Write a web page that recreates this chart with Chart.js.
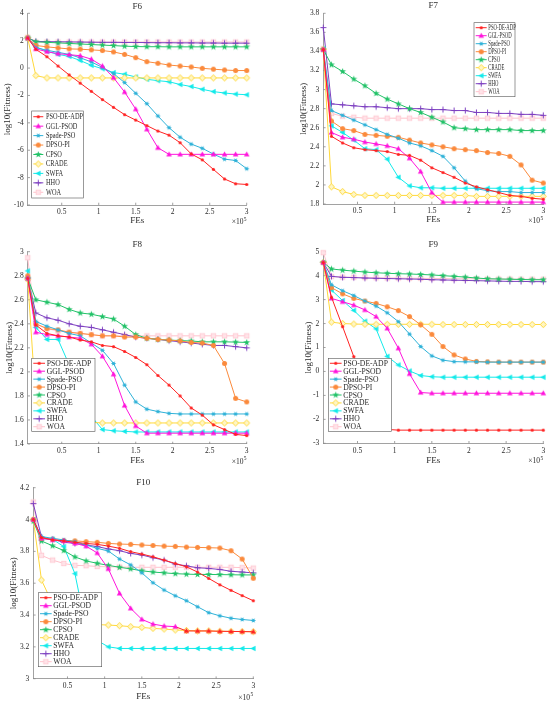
<!DOCTYPE html>
<html><head><meta charset="utf-8">
<script src="https://cdn.jsdelivr.net/npm/chart.js@4.4.1/dist/chart.umd.min.js"></script>
<style>
html,body{margin:0;padding:0;background:#fff;}
#wrap{position:relative;width:550px;height:706px;overflow:hidden;background:#fff;}
#wrap canvas{position:absolute;left:0;top:0;}
</style></head><body>
<div id="wrap">
<canvas id="c6" width="550" height="706"></canvas>
<canvas id="c7" width="550" height="706"></canvas>
<canvas id="c8" width="550" height="706"></canvas>
<canvas id="c9" width="550" height="706"></canvas>
<canvas id="c10" width="550" height="706"></canvas>
</div>
<script>
// ---------- data ----------
const SERIES = ['PSO-DE-ADP','GGL-PSOD','Spade-PSO','DPSO-PI','CPSO','CRADE','SWFA','HHO','WOA'];
const FES = [0.04,0.15,0.3,0.45,0.6,0.75,0.9,1.05,1.2,1.35,1.5,1.65,1.8,1.95,2.1,2.25,2.4,2.55,2.7,2.85,3.0];
const X_TICKS = [0.5,1,1.5,2,2.5,3];

const F6_Y_TICKS = [-10,-8,-6,-4,-2,0,2,4];
const F6_PSO_DE_ADP = [2.2,1.37,0.83,0.15,-0.5,-1.1,-1.7,-2.3,-2.87,-3.4,-3.8,-4.2,-4.6,-4.9,-5.45,-6.27,-6.7,-7.4,-8.1,-8.45,-8.5];
const F6_GGL_PSOD = [2.2,1.4,1.2,1.05,0.98,0.9,0.65,0.15,-0.7,-1.75,-3.0,-4.47,-5.82,-6.3,-6.3,-6.3,-6.3,-6.3,-6.3,-6.3,-6.3];
const F6_SPADE_PSO = [2.2,1.5,1.3,1.15,1.0,0.75,0.45,0.05,-0.4,-1.06,-1.84,-2.6,-3.5,-4.35,-5.05,-5.55,-5.86,-6.28,-6.65,-6.75,-7.35];
const F6_DPSO_PI = [2.2,1.65,1.55,1.47,1.4,1.38,1.33,1.28,1.18,1.0,0.76,0.47,0.35,0.22,0.15,0.08,-0.02,-0.08,-0.14,-0.18,-0.18];
const F6_CPSO = [2.2,1.92,1.88,1.84,1.8,1.76,1.72,1.68,1.64,1.6,1.57,1.56,1.56,1.55,1.55,1.55,1.55,1.55,1.55,1.55,1.55];
const F6_CRADE = [2.2,-0.55,-0.72,-0.72,-0.72,-0.72,-0.72,-0.72,-0.72,-0.72,-0.72,-0.72,-0.72,-0.72,-0.72,-0.72,-0.72,-0.72,-0.72,-0.72,-0.72];
const F6_SWFA = [2.2,1.55,1.22,1.0,0.85,0.55,0.2,-0.05,-0.33,-0.45,-0.65,-0.82,-0.92,-1.0,-1.2,-1.35,-1.55,-1.72,-1.82,-1.9,-1.95];
const F6_HHO = [2.2,1.95,1.93,1.92,1.91,1.9,1.89,1.88,1.88,1.87,1.87,1.86,1.85,1.85,1.84,1.84,1.83,1.83,1.82,1.82,1.82];
const F6_WOA = [2.25,1.9,1.9,1.9,1.9,1.9,1.9,1.9,1.9,1.9,1.9,1.9,1.9,1.9,1.9,1.9,1.9,1.9,1.9,1.9,1.9];

const F7_Y_TICKS = [1.8,2,2.2,2.4,2.6,2.8,3,3.2,3.4,3.6,3.8];
const F7_PSO_DE_ADP = [3.42,2.51,2.44,2.39,2.37,2.36,2.35,2.32,2.31,2.26,2.18,2.13,2.08,2.02,1.98,1.95,1.92,1.89,1.88,1.86,1.85];
const F7_GGL_PSOD = [3.42,2.55,2.5,2.48,2.45,2.43,2.41,2.38,2.28,2.14,1.92,1.82,1.82,1.82,1.82,1.82,1.82,1.82,1.82,1.82,1.82];
const F7_SPADE_PSO = [3.42,2.78,2.73,2.68,2.63,2.58,2.53,2.49,2.44,2.41,2.36,2.3,2.18,2.04,1.96,1.94,1.93,1.93,1.92,1.92,1.92];
const F7_DPSO_PI = [3.42,2.67,2.59,2.57,2.53,2.52,2.51,2.5,2.47,2.44,2.42,2.4,2.38,2.37,2.36,2.34,2.33,2.3,2.21,2.05,2.02];
const F7_CPSO = [3.42,3.26,3.19,3.11,3.04,2.96,2.9,2.85,2.8,2.76,2.71,2.66,2.6,2.59,2.58,2.58,2.58,2.58,2.57,2.57,2.57];
const F7_CRADE = [3.42,1.98,1.93,1.9,1.89,1.89,1.89,1.89,1.89,1.89,1.89,1.89,1.89,1.89,1.88,1.88,1.88,1.88,1.88,1.88,1.88];
const F7_SWFA = [3.43,2.62,2.55,2.47,2.38,2.37,2.27,2.08,1.99,1.97,1.97,1.965,1.965,1.965,1.965,1.965,1.965,1.965,1.965,1.965,1.965];
const F7_HHO = [3.65,2.85,2.84,2.83,2.82,2.82,2.81,2.8,2.8,2.8,2.79,2.79,2.78,2.78,2.76,2.76,2.75,2.75,2.74,2.74,2.73];
const F7_WOA = [3.43,2.75,2.72,2.71,2.7,2.7,2.7,2.7,2.7,2.7,2.7,2.7,2.7,2.7,2.7,2.7,2.7,2.7,2.7,2.7,2.7];

const F8_Y_TICKS = [1.4,1.6,1.8,2,2.2,2.4,2.6,2.8,3];
const F8_PSO_DE_ADP = [2.78,2.39,2.32,2.3,2.29,2.265,2.25,2.22,2.21,2.17,2.12,2.06,1.97,1.89,1.8,1.7,1.64,1.56,1.52,1.48,1.47];
const F8_GGL_PSOD = [2.78,2.33,2.31,2.3,2.29,2.28,2.23,2.13,1.98,1.72,1.55,1.49,1.49,1.49,1.49,1.49,1.49,1.49,1.49,1.49,1.49];
const F8_SPADE_PSO = [2.78,2.42,2.38,2.35,2.32,2.3,2.24,2.18,2.07,1.89,1.75,1.69,1.67,1.655,1.65,1.65,1.65,1.65,1.65,1.65,1.65];
const F8_DPSO_PI = [2.8,2.4,2.36,2.35,2.33,2.32,2.31,2.3,2.3,2.29,2.29,2.28,2.27,2.265,2.257,2.245,2.24,2.22,2.07,1.78,1.75];
const F8_CPSO = [2.78,2.6,2.58,2.56,2.52,2.49,2.48,2.46,2.44,2.38,2.31,2.28,2.27,2.265,2.26,2.257,2.25,2.25,2.25,2.248,2.245];
const F8_CRADE = [2.77,1.75,1.62,1.6,1.59,1.58,1.58,1.575,1.575,1.575,1.575,1.575,1.575,1.575,1.575,1.575,1.575,1.575,1.575,1.575,1.575];
const F8_SWFA = [2.84,2.37,2.27,2.27,2.06,1.85,1.63,1.52,1.51,1.505,1.5,1.5,1.5,1.5,1.5,1.5,1.5,1.5,1.5,1.5,1.5];
const F8_HHO = [2.78,2.49,2.45,2.43,2.4,2.38,2.37,2.35,2.33,2.31,2.29,2.28,2.27,2.26,2.25,2.24,2.23,2.22,2.22,2.21,2.2];
const F8_WOA = [2.95,2.4,2.36,2.34,2.33,2.32,2.31,2.3,2.3,2.3,2.3,2.3,2.3,2.3,2.3,2.3,2.3,2.3,2.3,2.3,2.3];

const F9_Y_TICKS = [-3,-2,-1,0,1,2,3,4,5];
const F9_PSO_DE_ADP = [4.55,3.1,1.87,0.62,-0.7,-1.9,-2.42,-2.45,-2.45,-2.45,-2.45,-2.45,-2.45,-2.45,-2.45,-2.45,-2.45,-2.45,-2.45,-2.45,-2.45];
const F9_GGL_PSOD = [4.55,3.05,2.91,2.77,2.57,2.29,1.8,0.97,-0.1,-0.88,-0.91,-0.91,-0.91,-0.91,-0.91,-0.91,-0.91,-0.91,-0.91,-0.91,-0.91];
const F9_SPADE_PSO = [4.55,3.62,3.37,3.17,2.94,2.73,2.45,2.08,1.56,1.04,0.65,0.47,0.41,0.4,0.4,0.39,0.39,0.39,0.39,0.39,0.39];
const F9_DPSO_PI = [4.55,3.5,3.24,3.05,2.94,2.84,2.7,2.54,2.29,1.95,1.55,1.04,0.69,0.52,0.42,0.4,0.39,0.39,0.39,0.39,0.39];
const F9_CPSO = [4.55,4.28,4.23,4.19,4.15,4.12,4.1,4.08,4.07,4.05,4.03,4.0,3.97,3.94,3.9,3.87,3.86,3.85,3.84,3.83,3.83];
const F9_CRADE = [4.55,2.06,2.0,1.98,1.97,1.97,1.97,1.97,1.97,1.97,1.97,1.96,1.96,1.96,1.96,1.96,1.96,1.96,1.96,1.96,1.96];
const F9_SWFA = [4.55,3.4,2.96,2.55,2.1,1.78,0.63,0.27,0.02,-0.17,-0.22,-0.24,-0.24,-0.24,-0.24,-0.24,-0.24,-0.24,-0.24,-0.24,-0.24];
const F9_HHO = [4.55,3.97,3.93,3.92,3.9,3.89,3.88,3.87,3.86,3.85,3.83,3.82,3.81,3.8,3.79,3.78,3.77,3.76,3.76,3.75,3.75];
const F9_WOA = [4.96,3.96,3.94,3.93,3.92,3.91,3.9,3.9,3.89,3.89,3.88,3.88,3.87,3.87,3.87,3.86,3.86,3.86,3.85,3.85,3.85];

const F10_Y_TICKS = [3,3.2,3.4,3.6,3.8,4,4.2];
const F10_PSO_DE_ADP = [4.0,3.887,3.872,3.866,3.857,3.85,3.844,3.833,3.819,3.798,3.783,3.766,3.745,3.724,3.703,3.67,3.63,3.59,3.555,3.522,3.49];
const F10_GGL_PSOD = [4.0,3.882,3.872,3.866,3.85,3.833,3.79,3.69,3.536,3.442,3.373,3.343,3.331,3.327,3.3,3.3,3.3,3.298,3.297,3.296,3.295];
const F10_SPADE_PSO = [4.0,3.893,3.882,3.872,3.861,3.84,3.819,3.802,3.752,3.715,3.665,3.603,3.557,3.521,3.49,3.452,3.415,3.395,3.38,3.372,3.366];
const F10_DPSO_PI = [4.0,3.882,3.876,3.868,3.866,3.861,3.857,3.85,3.846,3.844,3.84,3.837,3.833,3.831,3.827,3.825,3.823,3.821,3.804,3.752,3.631];
const F10_CPSO = [3.99,3.865,3.835,3.805,3.765,3.74,3.725,3.712,3.7,3.69,3.678,3.67,3.665,3.66,3.657,3.655,3.655,3.654,3.653,3.652,3.652];
const F10_CRADE = [4.0,3.62,3.47,3.4,3.37,3.35,3.34,3.337,3.333,3.327,3.322,3.316,3.312,3.306,3.303,3.3,3.3,3.298,3.297,3.296,3.295];
const F10_SWFA = [4.0,3.88,3.876,3.83,3.66,3.32,3.24,3.2,3.19,3.19,3.19,3.19,3.19,3.19,3.19,3.19,3.19,3.19,3.19,3.19,3.19];
const F10_HHO = [4.1,3.89,3.875,3.857,3.85,3.84,3.83,3.815,3.804,3.787,3.777,3.76,3.745,3.72,3.709,3.697,3.693,3.686,3.675,3.67,3.665];
const F10_WOA = [4.11,3.775,3.745,3.724,3.712,3.71,3.705,3.703,3.702,3.7,3.7,3.7,3.7,3.7,3.7,3.7,3.7,3.7,3.7,3.698,3.695];

// ---------- styles ----------
const FONT = '"Liberation Serif","Times New Roman",serif';
const COLORS = ['#ff2222','#ff14dc','#2fb2d8','#fb8a3c','#22c268','#ffd83a','#12eaea','#7d3fc0','#ffc2cc'];
const TEXT_C = '#2a2a2a';
const AXIS_C = '#8a8a8a';

function makeMarker(kind, color){
  const s = 11, c = document.createElement('canvas');
  c.width = s; c.height = s;
  const g = c.getContext('2d'), m = s/2;
  g.fillStyle = color; g.strokeStyle = color; g.lineWidth = 1;
  if (kind === 'dot'){ g.beginPath(); g.arc(m,m,1.6,0,Math.PI*2); g.fill(); }
  else if (kind === 'tri'){ g.beginPath(); g.moveTo(m,m-3.1); g.lineTo(m+2.8,m+2.0); g.lineTo(m-2.8,m+2.0); g.closePath(); g.fill(); }
  else if (kind === 'ast'){ g.beginPath(); g.arc(m,m,1.6,0,Math.PI*2); g.fill();
    g.lineWidth=0.7; for(let k=0;k<3;k++){const a=k*Math.PI/3; g.beginPath(); g.moveTo(m-2.3*Math.cos(a),m-2.3*Math.sin(a)); g.lineTo(m+2.3*Math.cos(a),m+2.3*Math.sin(a)); g.stroke();} }
  else if (kind === 'circ'){ g.beginPath(); g.arc(m,m,2.5,0,Math.PI*2); g.fill(); }
  else if (kind === 'star'){ g.beginPath();
    for(let k=0;k<10;k++){const r = k%2? 1.4:3.6; const a = -Math.PI/2 + k*Math.PI/5; const x=m+r*Math.cos(a), y=m+r*Math.sin(a); k?g.lineTo(x,y):g.moveTo(x,y);} g.closePath(); g.fill(); }
  else if (kind === 'diam'){ g.beginPath(); g.moveTo(m,m-3.2); g.lineTo(m+3.0,m); g.lineTo(m,m+3.2); g.lineTo(m-3.0,m); g.closePath(); g.fillStyle='#fff6c4'; g.fill(); g.lineWidth=1; g.stroke(); }
  else if (kind === 'ltri'){ g.beginPath(); g.moveTo(m-3.1,m); g.lineTo(m+2.2,m-2.8); g.lineTo(m+2.2,m+2.8); g.closePath(); g.fill(); }
  else if (kind === 'plus'){ g.lineWidth=1; g.beginPath(); g.moveTo(m-3,m); g.lineTo(m+3,m); g.moveTo(m,m-3); g.lineTo(m,m+3); g.stroke(); }
  else if (kind === 'sq'){ g.fillStyle='#ffe3e8'; g.fillRect(m-2.3,m-2.3,4.6,4.6); g.lineWidth=0.7; g.strokeRect(m-2.3,m-2.3,4.6,4.6); }
  return c;
}
const KINDS = ['dot','tri','ast','circ','star','diam','ltri','plus','sq'];
const MARKERS = KINDS.map((k,i)=>makeMarker(k,COLORS[i]));
const GGL_RED = makeMarker('tri', COLORS[0]);

function fmt(v){ return String(+(+v).toFixed(2)); }

const PANELS = [
 {id:'c6', title:'F6', series:[F6_PSO_DE_ADP,F6_GGL_PSOD,F6_SPADE_PSO,F6_DPSO_PI,F6_CPSO,F6_CRADE,F6_SWFA,F6_HHO,F6_WOA],
  ymin:-10, ymax:4, yticks:F6_Y_TICKS, area:{l:27.7,t:13.3,r:246.7,b:205},
  ttl:-7, fes:16, xb:17.5, ylab:-20.4,
  leg:{x:31.7,y:111,w:51.6,h:87,fs:7.3,sx:0.87,lx0:1.6,lx1:11.6,tx:14.3}},
 {id:'c7', title:'F7', series:[F7_PSO_DE_ADP,F7_GGL_PSOD,F7_SPADE_PSO,F7_DPSO_PI,F7_CPSO,F7_CRADE,F7_SWFA,F7_HHO,F7_WOA],
  ymin:1.8, ymax:3.8, yticks:F7_Y_TICKS, area:{l:323.3,t:13.3,r:543.3,b:204},
  ttl:-7.3, fes:16, xb:17.5, ylab:-20,
  leg:{x:474,y:22.7,w:41,h:74,fs:7.6,sx:0.62,lx0:1.7,lx1:12.7,tx:14.3}},
 {id:'c8', title:'F8', series:[F8_PSO_DE_ADP,F8_GGL_PSOD,F8_SPADE_PSO,F8_DPSO_PI,F8_CPSO,F8_CRADE,F8_SWFA,F8_HHO,F8_WOA],
  ymin:1.4, ymax:3, yticks:F8_Y_TICKS, area:{l:27.7,t:251.7,r:246.7,b:444},
  ttl:-6.7, fes:17, xb:18, ylab:-18,
  leg:{x:31.7,y:358.3,w:63.3,h:73.4,fs:7.8,sx:0.98,lx0:1.6,lx1:13.3,tx:15}},
 {id:'c9', title:'F9', series:[F9_PSO_DE_ADP,F9_GGL_PSOD,F9_SPADE_PSO,F9_DPSO_PI,F9_CPSO,F9_CRADE,F9_SWFA,F9_HHO,F9_WOA],
  ymin:-3, ymax:5, yticks:F9_Y_TICKS, area:{l:323.3,t:251.7,r:543.3,b:443.3},
  ttl:-6.7, fes:17, xb:18, ylab:-15,
  leg:{x:328.3,y:358.3,w:63.4,h:73.4,fs:7.8,sx:0.98,lx0:1.6,lx1:13.3,tx:15}},
 {id:'c10', title:'F10', series:[F10_PSO_DE_ADP,F10_GGL_PSOD,F10_SPADE_PSO,F10_DPSO_PI,F10_CPSO,F10_CRADE,F10_SWFA,F10_HHO,F10_WOA],
  ymin:3, ymax:4.2, yticks:F10_Y_TICKS, area:{l:33.3,t:487.7,r:253.3,b:678.7},
  ttl:-5.4, fes:18, xb:19, ylab:-20,
  leg:{x:38.3,y:592.7,w:63.4,h:74,fs:7.8,sx:0.98,lx0:1.7,lx1:13.4,tx:15}, redTail:true}
];

const panelPlugin = {
  id:'panel',
  beforeDatasetsDraw(chart, args, o){
    const ctx = chart.ctx, a = chart.chartArea;
    ctx.save(); ctx.strokeStyle = AXIS_C; ctx.lineWidth = 0.8;
    const xs = chart.scales.x, ys = chart.scales.y;
    X_TICKS.forEach(v=>{ const px = xs.getPixelForValue(v); ctx.beginPath(); ctx.moveTo(px,a.bottom); ctx.lineTo(px,a.bottom-2.3); ctx.stroke(); });
    o.yticks.forEach(v=>{ const py = ys.getPixelForValue(v); ctx.beginPath(); ctx.moveTo(a.left,py); ctx.lineTo(a.left+2.3,py); ctx.stroke(); });
    ctx.restore();
  },
  afterDraw(chart, args, o){
    const ctx = chart.ctx, a = chart.chartArea;
    ctx.save();
    ctx.fillStyle = TEXT_C; ctx.textAlign = 'center'; ctx.textBaseline = 'middle';
    const cx = (a.left + a.right)/2;
    ctx.font = '9px ' + FONT;
    ctx.fillText(o.title, cx, a.top + o.ttl);
    ctx.font = '9px ' + FONT;
    ctx.fillText('FEs', cx, a.bottom + o.fes);
    ctx.save(); ctx.translate(a.left + o.ylab, (a.top + a.bottom)/2); ctx.rotate(-Math.PI/2);
    ctx.fillText('log10(Fitness)', 0, 0); ctx.restore();
    ctx.textAlign = 'left';
    ctx.font = '7.5px ' + FONT;
    const x0 = a.right - 15, y0 = a.bottom + o.xb;
    ctx.fillText('\u00d710', x0, y0);
    const w = ctx.measureText('\u00d710').width;
    ctx.font = '5.5px ' + FONT;
    ctx.fillText('5', x0 + w + 0.4, y0 - 3.2);
    // legend
    const L = o.leg;
    ctx.fillStyle = '#fff'; ctx.fillRect(L.x, L.y, L.w, L.h);
    ctx.strokeStyle = '#555'; ctx.lineWidth = 0.6; ctx.strokeRect(L.x, L.y, L.w, L.h);
    const rowH = (L.h - 2)/SERIES.length;
    SERIES.forEach((name,i)=>{
      const cy = L.y + 1 + rowH*(i + 0.5);
      ctx.strokeStyle = COLORS[i]; ctx.lineWidth = 1;
      ctx.beginPath(); ctx.moveTo(L.x + L.lx0, cy); ctx.lineTo(L.x + L.lx1, cy); ctx.stroke();
      const img = MARKERS[i];
      ctx.drawImage(img, L.x + (L.lx0 + L.lx1)/2 - img.width/2, cy - img.height/2);
      ctx.save(); ctx.translate(L.x + L.tx, cy); ctx.scale(L.sx, 1);
      ctx.fillStyle = TEXT_C; ctx.font = L.fs + 'px ' + FONT; ctx.textAlign = 'left'; ctx.textBaseline = 'middle';
      ctx.fillText(name, 0, 0.5); ctx.restore();
    });
    ctx.restore();
  }
};

PANELS.forEach(P=>{
  const A = P.area;
  const datasets = P.series.map((arr,i)=>{
    const ds = {
      label: SERIES[i],
      data: FES.map((x,k)=>({x:x, y:arr[k]})),
      borderColor: COLORS[i], backgroundColor: COLORS[i],
      borderWidth: 1, pointStyle: MARKERS[i], pointRadius: 3, pointHoverRadius: 3,
      tension: 0, fill: false, clip: false
    };
    if (P.redTail && i === 1){
      ds.pointStyle = FES.map((x,k)=> k >= 14 ? GGL_RED : MARKERS[1]);
      ds.segment = { borderColor: c => (c.p0DataIndex >= 13 ? COLORS[0] : COLORS[1]) };
    }
    return ds;
  });
  new Chart(document.getElementById(P.id), {
    type:'line',
    data:{datasets},
    plugins:[panelPlugin],
    options:{
      responsive:false, animation:false, events:[], devicePixelRatio:1,
      layout:{padding:{left:0, top:A.t, right:550 - A.r, bottom:0}},
      plugins:{legend:{display:false}, tooltip:{enabled:false}, title:{display:false},
        panel:{title:P.title, yticks:P.yticks, ttl:P.ttl, fes:P.fes, xb:P.xb, ylab:P.ylab, leg:P.leg}},
      scales:{
        x:{type:'linear', min:0.04, max:3,
          afterBuildTicks: s => { s.ticks = X_TICKS.map(v=>({value:v})); },
          afterFit: s => { s.height = 706 - A.b; },
          grid:{display:false, drawTicks:false},
          border:{display:true, color:AXIS_C, width:0.8},
          ticks:{autoSkip:false, maxRotation:0, padding:3, color:TEXT_C, font:{family:FONT, size:7.5}, callback: v => fmt(v)}},
        y:{type:'linear', min:P.ymin, max:P.ymax,
          afterBuildTicks: s => { s.ticks = P.yticks.map(v=>({value:v})); },
          afterFit: s => { s.width = A.l; },
          grid:{display:false, drawTicks:false},
          border:{display:true, color:AXIS_C, width:0.8},
          ticks:{autoSkip:false, padding:4, color:TEXT_C, font:{family:FONT, size:7.5}, callback: v => fmt(v)}}
      }
    }
  });
});
</script>
</body></html>
